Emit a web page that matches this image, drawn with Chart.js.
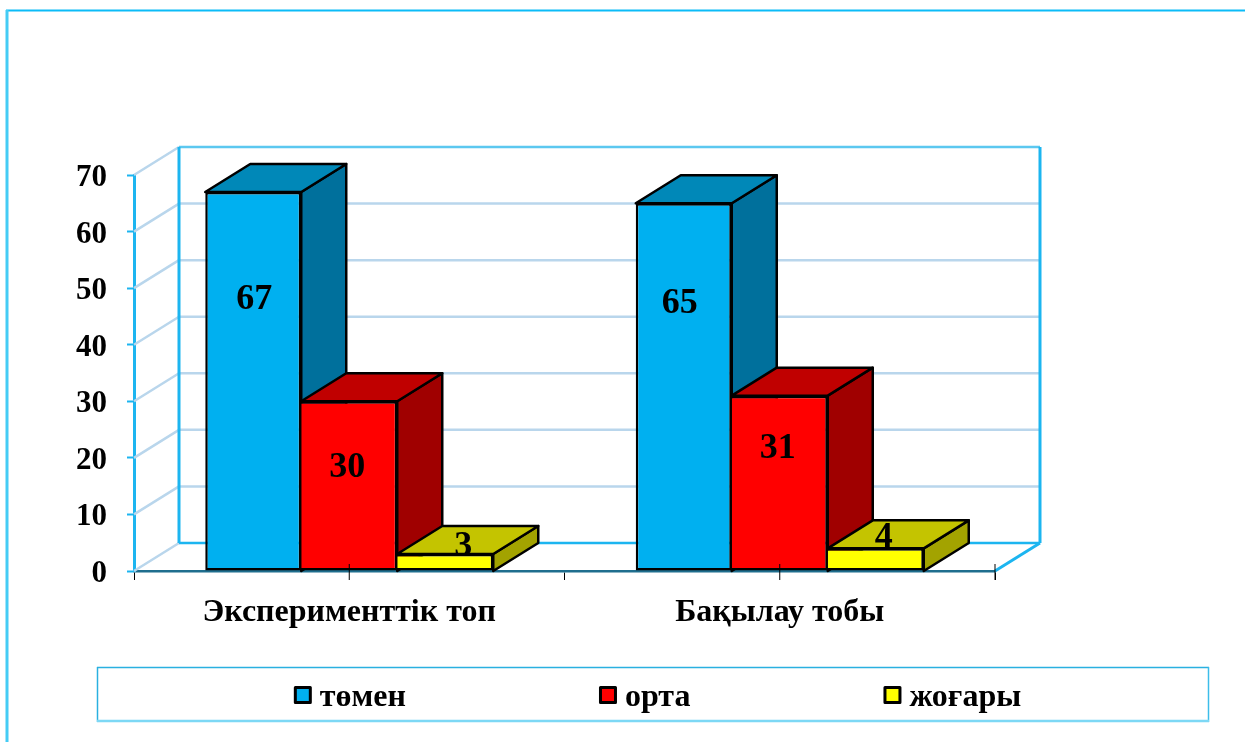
<!DOCTYPE html>
<html>
<head>
<meta charset="utf-8">
<title>chart</title>
<script src="https://cdn.jsdelivr.net/npm/chart.js@4/dist/chart.umd.min.js"></script>
<style>
    html, body { margin: 0; padding: 0; background: #fff; }
    #box { position: relative; width: 1245px; height: 742px; }
</style>
</head>
<body>
<div id="box"><canvas id="myChart" width="1245" height="742"></canvas></div>
<script>
const categories = ["Эксперименттік топ", "Бақылау тобы"]
const seriesNames = ["төмен", "орта", "жоғары"]
const low = [67, 65]
const mid = [30, 31]
const high = [3, 4]
const yTicks = [0, 10, 20, 30, 40, 50, 60, 70]

// colours per series: front, top, side
const fronts = ["#00B0F0", "#FF0000", "#FFFF00"]
const tops = ["#0088B8", "#C00000", "#C4C400"]
const sides = ["#00709C", "#A00000", "#A3A300"]

const FONT = '"Liberation Serif", "Times New Roman", serif'
const CYAN = "#1CB5F0"
const PALE = "#B9D6EC"
const DEPTH_X = 45
const DEPTH_Y = 28

// label shift from the top middle of each bar, [dx, dy], per series then group
const labelShift = [
    [[1, 108], [-4, 100]],
    [[-2, 66], [-2, 53]],
    [[18, -7], [8, -11]]
]

function line(ctx, x1, y1, x2, y2, color, width) {
    ctx.beginPath()
    ctx.moveTo(x1, y1)
    ctx.lineTo(x2, y2)
    ctx.strokeStyle = color
    ctx.lineWidth = width
    ctx.stroke()
}

function face(ctx, points, color) {
    ctx.beginPath()
    points.forEach((p, i) => i ? ctx.lineTo(p[0], p[1]) : ctx.moveTo(p[0], p[1]))
    ctx.closePath()
    ctx.fillStyle = color
    ctx.fill()
    ctx.strokeStyle = "#000"
    ctx.lineWidth = 2.5
    ctx.lineJoin = "round"
    ctx.stroke()
}

// frame of the page and the legend box
const framePlugin = {
    id: "frame",
    beforeDraw(chart) {
        const ctx = chart.ctx
        ctx.save()
        line(ctx, 6, 10.5, 1245, 10.5, "#0CBCF8", 2)
        line(ctx, 7, 10, 7, 742, "#44CCF5", 3)
        line(ctx, 97, 667.5, 1209, 667.5, "#2AB0E0", 1.5)
        line(ctx, 97.5, 667, 97.5, 722, "#2AB0E0", 1.5)
        line(ctx, 1208.5, 667, 1208.5, 722, "#3CBDEA", 1.5)
        line(ctx, 97, 721, 1209, 721, "#7DD8F5", 2.5)
        ctx.restore()
    }
}

// back wall, floor and grid lines of the 3D box
const wallPlugin = {
    id: "wall",
    beforeDatasetsDraw(chart) {
        const ctx = chart.ctx
        const y = chart.scales.y
        const x = chart.scales.x
        const left = x.left
        const right = x.right
        const y0 = y.getPixelForValue(0)
        const yMax = y.getPixelForValue(yTicks[yTicks.length - 1])
        ctx.save()
        yTicks.forEach((t) => {
            const py = y.getPixelForValue(t)
            line(ctx, left, py, left + DEPTH_X, py - DEPTH_Y, PALE, 2.5)
            if (t > 0) {
                const top = t === yTicks[yTicks.length - 1]
                line(ctx, left + DEPTH_X, py - DEPTH_Y, right + DEPTH_X, py - DEPTH_Y, top ? "#5CC8F0" : PALE, 2.5)
            }
        })
        line(ctx, left + DEPTH_X, y0 - DEPTH_Y, right + DEPTH_X, y0 - DEPTH_Y, CYAN, 2.5)
        line(ctx, left + DEPTH_X, yMax - DEPTH_Y, left + DEPTH_X, y0 - DEPTH_Y, CYAN, 3)
        line(ctx, right + DEPTH_X, yMax - DEPTH_Y, right + DEPTH_X, y0 - DEPTH_Y, CYAN, 3)
        line(ctx, right, y0, right + DEPTH_X, y0 - DEPTH_Y, CYAN, 3)
        ctx.restore()
    }
}

// side and top faces of each bar, drawn before the library paints the fronts
const depthPlugin = {
    id: "depth",
    beforeDatasetsDraw(chart) {
        const ctx = chart.ctx
        const y0 = chart.scales.y.getPixelForValue(0)
        ctx.save()
        categories.forEach((c, g) => {
            seriesNames.forEach((s, i) => {
                const bar = chart.getDatasetMeta(i).data[g]
                const half = bar.width / 2
                const l = bar.x - half
                const r = bar.x + half
                face(ctx, [[r, y0], [r + DEPTH_X, y0 - DEPTH_Y], [r + DEPTH_X, bar.y - DEPTH_Y], [r, bar.y]], sides[i])
                face(ctx, [[l, bar.y], [l + DEPTH_X, bar.y - DEPTH_Y], [r + DEPTH_X, bar.y - DEPTH_Y], [r, bar.y]], tops[i])
            })
        })
        ctx.restore()
    }
}

// value labels, extra x ticks and the legend
const textPlugin = {
    id: "texts",
    afterDatasetsDraw(chart) {
        const ctx = chart.ctx
        const x = chart.scales.x
        const y0 = chart.scales.y.getPixelForValue(0)
        ctx.save()
        categories.forEach((c, g) => {
            line(ctx, x.getPixelForValue(g), y0 - 7, x.getPixelForValue(g), y0 + 9, "#000", 1)
        })
        line(ctx, x.right, y0 - 7, x.right, y0 + 9, "#000", 1)
        ctx.textAlign = "center"
        ctx.textBaseline = "middle"
        ctx.fillStyle = "#000"
        ctx.font = "bold 36px " + FONT
        chart.data.datasets.forEach((ds, i) => {
            chart.getDatasetMeta(i).data.forEach((bar, g) => {
                const shift = labelShift[i][g]
                ctx.fillText(ds.data[g], bar.x + shift[0], bar.y + shift[1])
            })
        })
        // legend items sit in one centred row with equal gaps
        ctx.font = "bold 32px " + FONT
        ctx.textAlign = "left"
        ctx.textBaseline = "alphabetic"
        const gap = 194
        const widths = seriesNames.map((s) => 25 + ctx.measureText(s).width)
        let px = 658 - (widths.reduce((a, b) => a + b, 0) + gap * 2) / 2
        seriesNames.forEach((s, i) => {
            ctx.fillStyle = fronts[i]
            ctx.strokeStyle = "#000"
            ctx.lineWidth = 3
            ctx.lineJoin = "round"
            ctx.fillRect(px + 0.5, 687.5, 15, 15)
            ctx.strokeRect(px + 0.5, 687.5, 15, 15)
            ctx.fillStyle = "#000"
            ctx.fillText(s, px + 25, 706)
            px += widths[i] + gap
        })
        ctx.restore()
    }
}

function buildChart(canvasId) {
    const ctx = document.getElementById(canvasId)
    new Chart(ctx, {
        type: "bar",
        data: {
            labels: categories,
            datasets: [low, mid, high].map((data, i) => ({
                label: seriesNames[i],
                data: data,
                backgroundColor: fronts[i],
                borderColor: "#000",
                borderWidth: 2.5,
                // neighbouring bars share one edge
                borderSkipped: i === 0 ? false : "left",
                categoryPercentage: 0.669,
                barPercentage: 1
            }))
        },
        options: {
            responsive: false,
            animation: false,
            layout: { padding: { left: 0, top: 175, right: 250, bottom: 100 } },
            plugins: { legend: { display: false }, tooltip: { enabled: false } },
            scales: {
                x: {
                    afterFit(scale) { scale.height = 71 },
                    border: { color: "#1F6E8E", width: 2.5 },
                    grid: { offset: true, drawOnChartArea: false, tickColor: "#000", tickLength: 9, tickWidth: 1 },
                    ticks: { color: "#000", padding: 14, maxRotation: 0, font: { family: FONT, size: 32, weight: "bold" } }
                },
                y: {
                    min: 0,
                    max: 70,
                    afterFit(scale) { scale.width = 134 },
                    afterBuildTicks(scale) { scale.ticks = yTicks.map((v) => ({ value: v })) },
                    border: { color: CYAN, width: 3 },
                    grid: { drawOnChartArea: false, tickColor: CYAN, tickLength: 7, tickWidth: 2 },
                    ticks: { color: "#000", padding: 20, labelOffset: 3, font: { family: FONT, size: 31, weight: "bold" } }
                }
            }
        },
        plugins: [framePlugin, wallPlugin, depthPlugin, textPlugin]
    })
}

document.addEventListener("DOMContentLoaded", () => buildChart("myChart"))
</script>
</body>
</html>
